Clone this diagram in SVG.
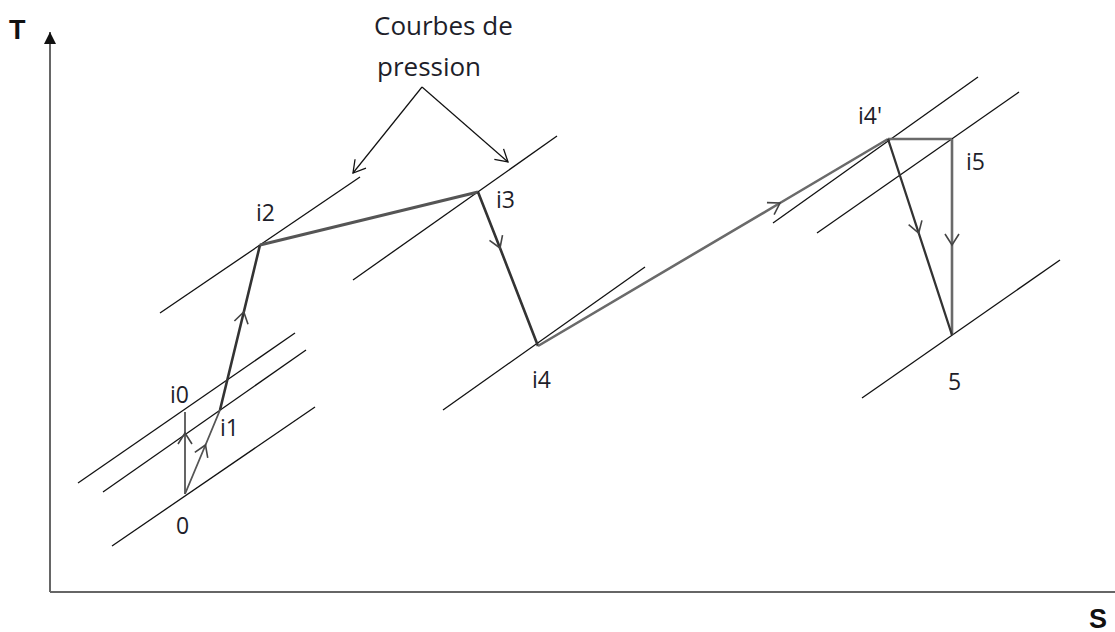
<svg xmlns="http://www.w3.org/2000/svg" width="1115" height="632" viewBox="0 0 1115 632">
  <defs>
    <style>
      .axis { stroke: #666; stroke-width: 2; fill: none; }
      .isobar { stroke: #111; stroke-width: 1.3; fill: none; }
      .path { stroke: #333; stroke-width: 2.6; fill: none; stroke-linejoin: round; marker-mid: url(#chev); }
      .path.light { stroke: #6a6a6a; }
      .path.thin { stroke-width: 1.8; stroke: #555; }
      .note { stroke: #111; stroke-width: 1.2; fill: none; marker-end: url(#open); }
      .lbl { font-family: "Open Sans", "Liberation Sans", sans-serif; font-size: 23px; fill: #1e1e2a; }
      .ax { font-family: "Liberation Sans", Arial, sans-serif; font-size: 27px; font-weight: bold; fill: #111; }
    </style>
    <marker id="chev" viewBox="-14 -9 16 18" markerWidth="16" markerHeight="18" refX="0" refY="0" orient="auto" markerUnits="userSpaceOnUse">
      <path d="M-11,-7 L0,0 L-11,7" fill="none" stroke="#444" stroke-width="1.6"/>
    </marker>
    <marker id="open" viewBox="-14 -9 16 18" markerWidth="16" markerHeight="18" refX="0" refY="0" orient="auto" markerUnits="userSpaceOnUse">
      <path d="M-12,-7 L0,0 L-12,7" fill="none" stroke="#111" stroke-width="1.3"/>
    </marker>
    <marker id="axhead" viewBox="-14 -8 16 16" markerWidth="16" markerHeight="16" refX="0" refY="0" orient="auto" markerUnits="userSpaceOnUse">
      <path d="M-12,-6 L0,0 L-12,6 Z" fill="#111"/>
    </marker>
  </defs>

  <rect width="1115" height="632" fill="#fff"/>

  <!-- axes -->
  <g id="axes">
    <path class="axis" d="M50,592 V32" marker-end="url(#axhead)"/>
    <path class="axis" d="M50,592 H1115"/>
    <text class="ax" x="9" y="39">T</text>
    <text class="ax" x="1089" y="628">S</text>
  </g>

  <!-- isobars (pressure curves) -->
  <g id="isobars">
    <line class="isobar" x1="112" y1="546" x2="315" y2="407"/>
    <line class="isobar" x1="78" y1="483" x2="295" y2="333"/>
    <line class="isobar" x1="103" y1="492" x2="306" y2="350"/>
    <line class="isobar" x1="160" y1="313" x2="360" y2="177"/>
    <line class="isobar" x1="353" y1="280" x2="557" y2="136"/>
    <line class="isobar" x1="443" y1="410" x2="645" y2="267"/>
    <line class="isobar" x1="773" y1="223" x2="978" y2="77"/>
    <line class="isobar" x1="817" y1="233" x2="1019" y2="92"/>
    <line class="isobar" x1="862" y1="398" x2="1060" y2="260"/>
  </g>

  <!-- process connectors -->
  <g id="connectors">
    <path class="path thin" d="M185,494 L185,433 L185,412"/>
    <path class="path thin" d="M185,494 L205.5,445 L220,410"/>
    <path class="path" d="M220,410 L243.8,312 L260,245"/>
    <path class="path light" style="marker-mid:none;stroke:#555;stroke-width:3" d="M260,245 L478,192"/>
    <path class="path" d="M478,192 L500,248 L538,346"/>
    <path class="path light" d="M538,346 L780,203 L888,139"/>
    <path class="path light" style="marker-mid:none" d="M888,139 L952,139"/>
    <path class="path light" d="M952,139 L952,245 L952,335"/>
    <path class="path" style="stroke-width:2.3" d="M888,139 L918.7,233 L952,335"/>
  </g>

  <!-- annotation -->
  <g id="annotation">
    <text class="lbl" style="font-size:26px" x="374" y="35">Courbes de</text>
    <text class="lbl" style="font-size:26px" x="377" y="76">pression</text>
    <path class="note" d="M422,87 L353,173"/>
    <path class="note" d="M422,87 L508,162"/>
  </g>

  <!-- state points -->
  <g id="p0"><text class="lbl" x="176" y="534">0</text></g>
  <g id="pi0"><text class="lbl" x="170" y="403">i0</text></g>
  <g id="pi1"><text class="lbl" x="220" y="436">i1</text></g>
  <g id="pi2"><text class="lbl" x="256" y="221">i2</text></g>
  <g id="pi3"><text class="lbl" x="496" y="208">i3</text></g>
  <g id="pi4"><text class="lbl" x="532" y="388">i4</text></g>
  <g id="pi4p"><text class="lbl" x="858" y="124">i4'</text></g>
  <g id="pi5"><text class="lbl" x="966" y="170">i5</text></g>
  <g id="p5"><text class="lbl" x="948" y="390">5</text></g>
</svg>
